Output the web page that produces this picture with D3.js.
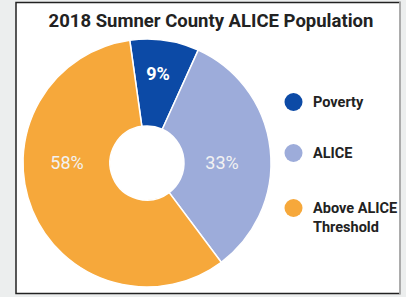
<!DOCTYPE html>
<html>
<head>
<meta charset="utf-8">
<script src="https://cdn.jsdelivr.net/npm/d3@7"></script>
<style>
  html, body { margin: 0; padding: 0; background: #eceeee; }
  svg { display: block; font-family: Roboto, "Noto Sans", sans-serif; }
</style>
</head>
<body>
<div id="chart"></div>
<script>
const categories = ["Poverty", "ALICE", "Above ALICE Threshold"];
const values = [9, 33, 58];
const labels = ["9%", "33%", "58%"];
const colors = ["#0c4aa6", "#9dacda", "#f6a83b"];

const W = 406, H = 297;
const svg = d3.select("#chart").append("svg")
  .attr("width", W)
  .attr("height", H);

// frame
svg.append("rect")
  .attr("x", 16).attr("y", 2.5)
  .attr("width", 384).attr("height", 291)
  .attr("fill", "#fff")
  .attr("stroke", "#222")
  .attr("stroke-width", 1.5);
svg.append("line")
  .attr("x1", 400).attr("x2", 400).attr("y1", 2).attr("y2", 294)
  .attr("stroke", "#c8c8c8").attr("stroke-width", 1.5);

svg.append("text")
  .attr("x", 211).attr("y", 27)
  .attr("text-anchor", "middle")
  .attr("font-size", 18.5)
  .attr("font-weight", 700)
  .attr("fill", "#222")
  .text("2018 Sumner County ALICE Population");

const cx = 147, cy = 163, rOuter = 124, rInner = 37;
const start = -8 * Math.PI / 180;

const pie = d3.pie().sort(null)
  .startAngle(start).endAngle(start + 2 * Math.PI)
  .value(d => d);
const arcs = pie(values);
const arc = d3.arc().innerRadius(rInner).outerRadius(rOuter);

const g = svg.append("g").attr("transform", `translate(${cx},${cy})`);
g.selectAll("path")
  .data(arcs)
  .enter().append("path")
  .attr("d", arc)
  .attr("fill", (d, i) => colors[i])
  .attr("stroke", "#fff")
  .attr("stroke-width", 1.5);

// slice labels: radius and angle (deg) where each label sits
const labelR = [90, 75, 80];
const labelAngle = [7, 90, 270];
g.selectAll("text.lbl")
  .data(arcs)
  .enter().append("text")
  .attr("class", "lbl")
  .attr("transform", (d, i) => {
    const a = labelAngle[i] * Math.PI / 180;
    return `translate(${labelR[i] * Math.sin(a)},${-labelR[i] * Math.cos(a)})`;
  })
  .attr("text-anchor", "middle")
  .attr("dy", "0.35em")
  .attr("font-size", 18)
  .attr("font-weight", (d, i) => i === 0 ? 700 : 400)
  .attr("fill", (d, i) => i === 0 ? "#fff" : "#f2f2f2")
  .text((d, i) => labels[i]);

// legend
const legendY = [102, 153, 208];
const leg = svg.append("g");
categories.forEach((c, i) => {
  leg.append("circle")
    .attr("cx", 293.5).attr("cy", legendY[i]).attr("r", 9)
    .attr("fill", colors[i]);
  const words = i === 2 ? ["Above ALICE", "Threshold"] : [c];
  words.forEach((w, j) => {
    leg.append("text")
      .attr("x", 313).attr("y", legendY[i] + j * 19)
      .attr("dy", "0.35em")
      .attr("font-size", 14.5)
      .attr("font-weight", 700)
      .attr("fill", "#222")
      .text(w);
  });
});
</script>
</body>
</html>
